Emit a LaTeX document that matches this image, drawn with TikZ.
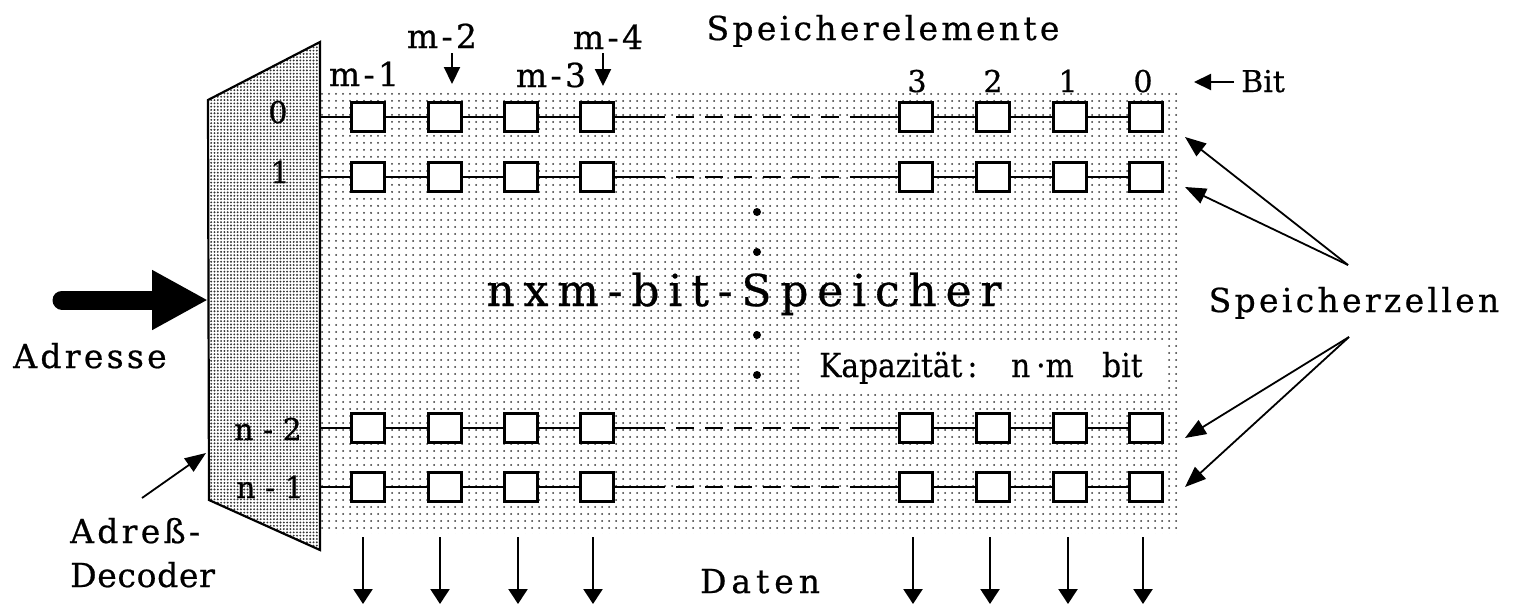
\documentclass[tikz,border=0pt]{standalone}
\usepackage{fontspec}
\setmainfont{DejaVu Serif}[FakeBold=0.6]
\newfontfamily\kapfont{DejaVu Serif Condensed}[FakeBold=0.3]
\usetikzlibrary{arrows.meta,patterns.meta}
\tikzset{
  cell/.style={draw, line width=2.6pt, fill=white, minimum width=33pt, minimum height=29pt, inner sep=0pt},
  wire/.style={line width=2pt},
  dashwire/.style={line width=2pt, dash pattern=on 18pt off 11pt},
  lbl/.style={font=\fontsize{33}{36}\selectfont\addfontfeature{LetterSpace=10}, inner sep=0pt, anchor=base},
  tightlbl/.style={font=\fontsize{33}{36}\selectfont\addfontfeature{LetterSpace=2}, inner sep=0pt, anchor=base},
  widelbl/.style={font=\fontsize{33}{36}\selectfont\addfontfeature{LetterSpace=15}, inner sep=0pt, anchor=base},
  biglbl/.style={font=\fontsize{44}{48}\selectfont\addfontfeature{LetterSpace=20}, inner sep=0pt, anchor=base},
  numlbl/.style={font=\fontsize{30}{34}\selectfont, inner sep=0pt, anchor=base},
  kaplbl/.style={font=\kapfont\fontsize{33}{36}\selectfont, inner sep=0pt, anchor=base west},
  thinarrow/.style={line width=1.8pt, -{Triangle[length=21pt,width=16pt]}},
  dataarrow/.style={line width=2.4pt, -{Triangle[length=15pt,width=19pt]}},
  smallarrow/.style={line width=2.2pt, -{Triangle[length=17pt,width=16pt]}},
  fatarrow/.style={line width=19pt, line cap=round, -{Triangle[length=56pt,width=56pt]}},
}
\begin{document}
\begin{tikzpicture}[x=1pt,y=-1pt]
\useasboundingbox (0,0) rectangle (1515,605);
\fill[white] (0,0) rectangle (1515,605);
% memory field
\fill[pattern={Dots[distance=7pt,radius=1pt]}, pattern color=black!80] (320,92) rectangle (1178,533);
\fill[white] (802,344) rectangle (1168,391);
% decoder
\draw[line width=2.2pt, pattern={Dots[distance=3.3pt,radius=1.05pt]}, pattern color=black!80]
  (208,100) -- (320,42) -- (320,550) -- (209,500) -- cycle;
\coordinate (decin) at (208,300);
\coordinate (decptr) at (206,453);
% cells and rows
\foreach \r/\yy in {0/117,1/177,2/428,3/487} {
  \coordinate (d\r) at (320,\yy);
  \coordinate (s\r) at (647,\yy);
  \coordinate (t\r) at (868,\yy);
  \foreach \c/\xx in {a/368,b/445,c/521,d/597,e/916,f/993,g/1070,h/1146}
    \node[cell] (r\r-\c) at (\xx,\yy) {};
  \draw[wire] (d\r) -- (r\r-a) (r\r-a) -- (r\r-b) (r\r-b) -- (r\r-c) (r\r-c) -- (r\r-d) (r\r-d) -- (s\r);
  \draw[dashwire] (s\r) -- (t\r);
  \draw[wire] (t\r) -- (r\r-e) (r\r-e) -- (r\r-f) (r\r-f) -- (r\r-g) (r\r-g) -- (r\r-h);
}
% vertical dots
\foreach \yy [count=\i] in {212,252,335,375} \fill (757,\yy) circle (4pt) coordinate (vd\i);
% texts
\node[lbl] (selem) at (883,40) {Speicherelemente};
\node[lbl] (m2) at (442,48) {m-2};
\node[lbl] (m4) at (608,49) {m-4};
\node[lbl] (m1) at (364,86) {m-1};
\node[lbl] (m3) at (551,87) {m-3};
\node[numlbl] (b3) at (917,92) {3};
\node[numlbl] (b2) at (993,92) {2};
\node[numlbl] (b1) at (1068,92) {1};
\node[numlbl] (b0) at (1143,92) {0};
\node[numlbl, anchor=base west] (bit) at (1241,92) {Bit};
\coordinate (bitarr) at (1234,82);
\coordinate (bittip) at (1194,82);
\draw[smallarrow] (bitarr) -- (bittip);
\coordinate (m2a) at (452,53); \coordinate (m2b) at (452,84);
\coordinate (m4a) at (603,53); \coordinate (m4b) at (603,86);
\draw[smallarrow] (m2a) -- (m2b);
\draw[smallarrow] (m4a) -- (m4b);
\node[numlbl] (l0) at (278,123) {0};
\node[numlbl] (l1) at (280,183) {1};
\node[numlbl] (l2) at (268,440) {n - 2};
\node[numlbl] (l3) at (270,498) {n - 1};
\node[biglbl] (title) at (744,306) {nxm-bit-Speicher};
\node[kaplbl] (kap) at (819,377) {\makebox[192pt][l]{Kapazität\hspace{5pt}:}\makebox[25pt][l]{n}\makebox[66pt][l]{·m}bit};
\node[lbl] (szellen) at (1354,312) {Speicherzellen};
\coordinate (szu) at (1348,265);
\coordinate (szl) at (1349,337);
\coordinate (p0) at (1185,137);
\coordinate (p1) at (1185,187);
\coordinate (p2) at (1185,438);
\coordinate (p3) at (1185,487);
\draw[thinarrow] (szu) -- (p0);
\draw[thinarrow] (szu) -- (p1);
\draw[thinarrow] (szl) -- (p2);
\draw[thinarrow] (szl) -- (p3);
\node[lbl] (adr) at (90,368) {Adresse};
\coordinate (adrstart) at (62,300);
\draw[fatarrow] (adrstart) -- (decin);
\node[lbl, anchor=base west] (adrd1) at (70,543) {Adreß-};
\node[tightlbl, anchor=base west] (adrd2) at (70,587) {Decoder};
\coordinate (decptrs) at (142,498);
\draw[thinarrow] (decptrs) -- (decptr);
\node[widelbl] (daten) at (760,593) {Daten};
\foreach \xx [count=\i] in {363,440,518,593,913,990,1068,1143} {
  \coordinate (da\i) at (\xx,537);
  \coordinate (db\i) at (\xx,604);
  \draw[dataarrow] (da\i) -- (db\i);
}
\end{tikzpicture}
\end{document}
